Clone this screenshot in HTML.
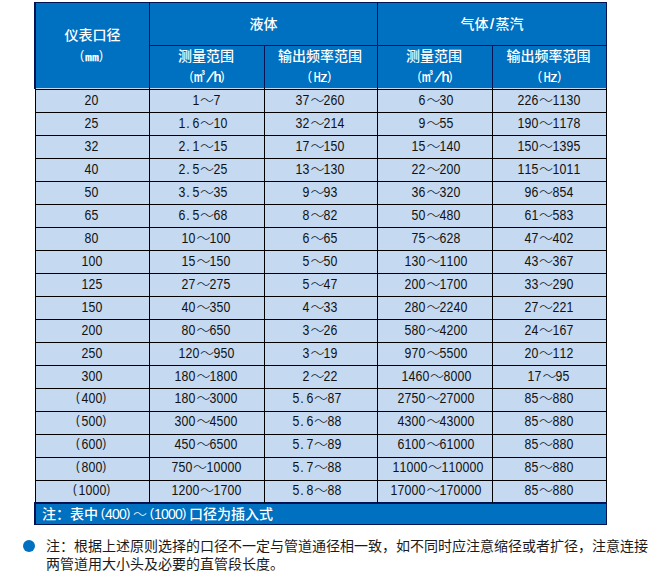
<!DOCTYPE html>
<html><head><meta charset="utf-8"><style>
html,body{margin:0;padding:0;background:#fff;width:655px;height:575px;overflow:hidden;position:relative}
div{position:absolute;box-sizing:border-box}
.ht,.dt,.ft,.note{font-family:"Liberation Sans","Noto Sans CJK SC",sans-serif;font-size:14px;white-space:nowrap;text-align:center}
i{display:inline-block;width:7px;text-align:center;font-style:normal}
i.l{text-align:right}
i.r{text-align:left}
i.p{text-align:left;text-indent:1px}
i b{display:inline-block;font-weight:normal;transform:scaleX(.6);margin:0 -3px}
i u{text-decoration:none;font-size:11.5px;position:relative;top:-1.5px}
s{text-decoration:none;display:inline-block;transform:scaleY(.75);transform-origin:50% 80%;font-weight:bold}
q{quotes:none;font-weight:300}
.dt q{position:relative;left:1.5px;font-weight:300}
i.s3{width:3.5px;font-size:9px;position:relative;top:-5px;left:-1px}
.ht i u{font-size:12px;top:-2.5px}
.ht{color:#fff;font-weight:500}
.ht i{text-shadow:.3px 0 0 #fff}
.ht i.l,.ht i.r{text-shadow:none}
.dt{color:#111}
.dt i{font-size:14px;transform:scaleX(.88)}
.dt i.l{text-align:right;padding-right:1px}
.dt i.r{text-align:left}
.dt i u{font-size:12.5px;top:-2.5px}
.ft{color:#fff;text-align:left;font-weight:500}

.ft i u{font-size:13px;top:-2px}
.bul{left:23px;top:540px;width:12px;height:12px;border-radius:50%;background:#0070C0}
.note{left:46px;top:537px;line-height:18px;text-align:left;color:#1a1a1a}
</style></head><body>
<div style="left:34px;top:2px;width:573px;height:86px;background:#0070C0"></div>
<div style="left:35px;top:88px;width:572px;height:415px;background:#C5D9F1"></div>
<div style="left:34px;top:502px;width:573px;height:23px;background:#0070C0"></div>
<div style="left:34px;top:2px;width:573px;height:1px;background:#001250"></div>
<div style="left:149px;top:45px;width:457px;height:1px;background:#001250"></div>
<div style="left:35px;top:89px;width:572px;height:1px;background:#000000"></div>
<div style="left:35px;top:112px;width:572px;height:1px;background:#000000"></div>
<div style="left:35px;top:135px;width:572px;height:1px;background:#000000"></div>
<div style="left:35px;top:158px;width:572px;height:1px;background:#000000"></div>
<div style="left:35px;top:181px;width:572px;height:1px;background:#000000"></div>
<div style="left:35px;top:204px;width:572px;height:1px;background:#000000"></div>
<div style="left:35px;top:227px;width:572px;height:1px;background:#000000"></div>
<div style="left:35px;top:250px;width:572px;height:1px;background:#000000"></div>
<div style="left:35px;top:273px;width:572px;height:1px;background:#000000"></div>
<div style="left:35px;top:296px;width:572px;height:1px;background:#000000"></div>
<div style="left:35px;top:319px;width:572px;height:1px;background:#000000"></div>
<div style="left:35px;top:342px;width:572px;height:1px;background:#000000"></div>
<div style="left:35px;top:365px;width:572px;height:1px;background:#000000"></div>
<div style="left:35px;top:388px;width:572px;height:1px;background:#000000"></div>
<div style="left:35px;top:411px;width:572px;height:1px;background:#000000"></div>
<div style="left:35px;top:434px;width:572px;height:1px;background:#000000"></div>
<div style="left:35px;top:457px;width:572px;height:1px;background:#000000"></div>
<div style="left:35px;top:480px;width:572px;height:1px;background:#000000"></div>
<div style="left:34px;top:502px;width:573px;height:2px;background:#001250"></div>
<div style="left:34px;top:524px;width:573px;height:1px;background:#001250"></div>
<div style="left:34px;top:2px;width:2px;height:87px;background:#001250"></div>
<div style="left:35px;top:89px;width:1px;height:414px;background:#000000"></div>
<div style="left:34px;top:502px;width:2px;height:23px;background:#001250"></div>
<div style="left:606px;top:2px;width:1px;height:86px;background:#001250"></div>
<div style="left:606px;top:88px;width:1px;height:414px;background:#000000"></div>
<div style="left:606px;top:502px;width:1px;height:23px;background:#001250"></div>
<div style="left:149px;top:2px;width:1px;height:86px;background:#001250"></div>
<div style="left:149px;top:88px;width:1px;height:415px;background:#000000"></div>
<div style="left:264px;top:45px;width:1px;height:43px;background:#001250"></div>
<div style="left:264px;top:88px;width:1px;height:415px;background:#000000"></div>
<div style="left:377px;top:2px;width:1px;height:86px;background:#001250"></div>
<div style="left:377px;top:88px;width:1px;height:415px;background:#000000"></div>
<div style="left:492px;top:45px;width:1px;height:43px;background:#001250"></div>
<div style="left:492px;top:88px;width:1px;height:415px;background:#000000"></div>
<div class="ht" style="left:36px;top:25px;width:113px;height:21px;line-height:21px">仪表口径</div>
<div class="ht" style="left:35px;top:46px;width:113px;height:21px;line-height:21px"><i class="l" style="padding-right:1px"><u>(</u></i><s>㎜</s><i class="r"><u>)</u></i></div>
<div class="ht" style="left:150px;top:14px;width:227px;height:21px;line-height:21px">液体</div>
<div class="ht" style="left:378px;top:14px;width:228px;height:21px;line-height:21px">气体<i>/</i>蒸汽</div>
<div class="ht" style="left:149px;top:46px;width:114px;height:21px;line-height:21px">测量范围</div>
<div class="ht" style="left:150px;top:67px;width:114px;height:21px;line-height:21px"><i class="l" style="width:5px"><u>(</u></i><i style="width:9px"><b style="transform:scaleX(.72);margin:0 -3px;font-weight:bold;text-shadow:none">m</b></i><i class="s3" style="width:3px">³</i><i style="width:8px"><b style="transform:skewX(-22deg);margin:0;font-weight:normal">/</b></i><i>h</i><i class="r" style="width:5px"><u>)</u></i></div>
<div class="ht" style="left:264px;top:46px;width:112px;height:21px;line-height:21px">输出频率范围</div>
<div class="ht" style="left:263.5px;top:67px;width:112.0px;height:21px;line-height:21px"><i class="l" style="padding-right:1.5px"><u>(</u></i><i><b style="transform:scaleX(.66)">H</b></i><i>z</i><i class="r"><u>)</u></i></div>
<div class="ht" style="left:377px;top:46px;width:114px;height:21px;line-height:21px">测量范围</div>
<div class="ht" style="left:378px;top:67px;width:114px;height:21px;line-height:21px"><i class="l" style="width:5px"><u>(</u></i><i style="width:9px"><b style="transform:scaleX(.72);margin:0 -3px;font-weight:bold;text-shadow:none">m</b></i><i class="s3" style="width:3px">³</i><i style="width:8px"><b style="transform:skewX(-22deg);margin:0;font-weight:normal">/</b></i><i>h</i><i class="r" style="width:5px"><u>)</u></i></div>
<div class="ht" style="left:492px;top:46px;width:113px;height:21px;line-height:21px">输出频率范围</div>
<div class="ht" style="left:493px;top:67px;width:113px;height:21px;line-height:21px"><i class="l" style="padding-right:1.5px"><u>(</u></i><i><b style="transform:scaleX(.66)">H</b></i><i>z</i><i class="r"><u>)</u></i></div>
<div class="dt" style="left:34.5px;top:89px;width:113.0px;height:22px;line-height:22px"><i>2</i><i>0</i></div>
<div class="dt" style="left:148.5px;top:89px;width:114.0px;height:22px;line-height:22px"><i>1</i><q>～</q><i>7</i></div>
<div class="dt" style="left:263.5px;top:89px;width:112.0px;height:22px;line-height:22px"><i>3</i><i>7</i><q>～</q><i>2</i><i>6</i><i>0</i></div>
<div class="dt" style="left:378.5px;top:89px;width:114.0px;height:22px;line-height:22px"><i>6</i><q>～</q><i>3</i><i>0</i></div>
<div class="dt" style="left:491.5px;top:89px;width:113.0px;height:22px;line-height:22px"><i>2</i><i>2</i><i>6</i><q>～</q><i>1</i><i>1</i><i>3</i><i>0</i></div>
<div class="dt" style="left:34.5px;top:112px;width:113.0px;height:22px;line-height:22px"><i>2</i><i>5</i></div>
<div class="dt" style="left:148.5px;top:112px;width:114.0px;height:22px;line-height:22px"><i>1</i><i class="p">.</i><i>6</i><q>～</q><i>1</i><i>0</i><i>&nbsp;</i></div>
<div class="dt" style="left:263.5px;top:112px;width:112.0px;height:22px;line-height:22px"><i>3</i><i>2</i><q>～</q><i>2</i><i>1</i><i>4</i></div>
<div class="dt" style="left:378.5px;top:112px;width:114.0px;height:22px;line-height:22px"><i>9</i><q>～</q><i>5</i><i>5</i></div>
<div class="dt" style="left:491.5px;top:112px;width:113.0px;height:22px;line-height:22px"><i>1</i><i>9</i><i>0</i><q>～</q><i>1</i><i>1</i><i>7</i><i>8</i></div>
<div class="dt" style="left:34.5px;top:135px;width:113.0px;height:22px;line-height:22px"><i>3</i><i>2</i></div>
<div class="dt" style="left:148.5px;top:135px;width:114.0px;height:22px;line-height:22px"><i>2</i><i class="p">.</i><i>1</i><q>～</q><i>1</i><i>5</i><i>&nbsp;</i></div>
<div class="dt" style="left:263.5px;top:135px;width:112.0px;height:22px;line-height:22px"><i>1</i><i>7</i><q>～</q><i>1</i><i>5</i><i>0</i></div>
<div class="dt" style="left:378.5px;top:135px;width:114.0px;height:22px;line-height:22px"><i>1</i><i>5</i><q>～</q><i>1</i><i>4</i><i>0</i></div>
<div class="dt" style="left:491.5px;top:135px;width:113.0px;height:22px;line-height:22px"><i>1</i><i>5</i><i>0</i><q>～</q><i>1</i><i>3</i><i>9</i><i>5</i></div>
<div class="dt" style="left:34.5px;top:158px;width:113.0px;height:22px;line-height:22px"><i>4</i><i>0</i></div>
<div class="dt" style="left:148.5px;top:158px;width:114.0px;height:22px;line-height:22px"><i>2</i><i class="p">.</i><i>5</i><q>～</q><i>2</i><i>5</i><i>&nbsp;</i></div>
<div class="dt" style="left:263.5px;top:158px;width:112.0px;height:22px;line-height:22px"><i>1</i><i>3</i><q>～</q><i>1</i><i>3</i><i>0</i></div>
<div class="dt" style="left:378.5px;top:158px;width:114.0px;height:22px;line-height:22px"><i>2</i><i>2</i><q>～</q><i>2</i><i>0</i><i>0</i></div>
<div class="dt" style="left:491.5px;top:158px;width:113.0px;height:22px;line-height:22px"><i>1</i><i>1</i><i>5</i><q>～</q><i>1</i><i>0</i><i>1</i><i>1</i></div>
<div class="dt" style="left:34.5px;top:181px;width:113.0px;height:22px;line-height:22px"><i>5</i><i>0</i></div>
<div class="dt" style="left:148.5px;top:181px;width:114.0px;height:22px;line-height:22px"><i>3</i><i class="p">.</i><i>5</i><q>～</q><i>3</i><i>5</i><i>&nbsp;</i></div>
<div class="dt" style="left:263.5px;top:181px;width:112.0px;height:22px;line-height:22px"><i>9</i><q>～</q><i>9</i><i>3</i></div>
<div class="dt" style="left:378.5px;top:181px;width:114.0px;height:22px;line-height:22px"><i>3</i><i>6</i><q>～</q><i>3</i><i>2</i><i>0</i></div>
<div class="dt" style="left:491.5px;top:181px;width:113.0px;height:22px;line-height:22px"><i>9</i><i>6</i><q>～</q><i>8</i><i>5</i><i>4</i></div>
<div class="dt" style="left:34.5px;top:204px;width:113.0px;height:22px;line-height:22px"><i>6</i><i>5</i></div>
<div class="dt" style="left:148.5px;top:204px;width:114.0px;height:22px;line-height:22px"><i>6</i><i class="p">.</i><i>5</i><q>～</q><i>6</i><i>8</i><i>&nbsp;</i></div>
<div class="dt" style="left:263.5px;top:204px;width:112.0px;height:22px;line-height:22px"><i>8</i><q>～</q><i>8</i><i>2</i></div>
<div class="dt" style="left:378.5px;top:204px;width:114.0px;height:22px;line-height:22px"><i>5</i><i>0</i><q>～</q><i>4</i><i>8</i><i>0</i></div>
<div class="dt" style="left:491.5px;top:204px;width:113.0px;height:22px;line-height:22px"><i>6</i><i>1</i><q>～</q><i>5</i><i>8</i><i>3</i></div>
<div class="dt" style="left:34.5px;top:227px;width:113.0px;height:22px;line-height:22px"><i>8</i><i>0</i></div>
<div class="dt" style="left:148.5px;top:227px;width:114.0px;height:22px;line-height:22px"><i>1</i><i>0</i><q>～</q><i>1</i><i>0</i><i>0</i></div>
<div class="dt" style="left:263.5px;top:227px;width:112.0px;height:22px;line-height:22px"><i>6</i><q>～</q><i>6</i><i>5</i></div>
<div class="dt" style="left:378.5px;top:227px;width:114.0px;height:22px;line-height:22px"><i>7</i><i>5</i><q>～</q><i>6</i><i>2</i><i>8</i></div>
<div class="dt" style="left:491.5px;top:227px;width:113.0px;height:22px;line-height:22px"><i>4</i><i>7</i><q>～</q><i>4</i><i>0</i><i>2</i></div>
<div class="dt" style="left:34.5px;top:250px;width:113.0px;height:22px;line-height:22px"><i>1</i><i>0</i><i>0</i></div>
<div class="dt" style="left:148.5px;top:250px;width:114.0px;height:22px;line-height:22px"><i>1</i><i>5</i><q>～</q><i>1</i><i>5</i><i>0</i></div>
<div class="dt" style="left:263.5px;top:250px;width:112.0px;height:22px;line-height:22px"><i>5</i><q>～</q><i>5</i><i>0</i></div>
<div class="dt" style="left:378.5px;top:250px;width:114.0px;height:22px;line-height:22px"><i>1</i><i>3</i><i>0</i><q>～</q><i>1</i><i>1</i><i>0</i><i>0</i></div>
<div class="dt" style="left:491.5px;top:250px;width:113.0px;height:22px;line-height:22px"><i>4</i><i>3</i><q>～</q><i>3</i><i>6</i><i>7</i></div>
<div class="dt" style="left:34.5px;top:273px;width:113.0px;height:22px;line-height:22px"><i>1</i><i>2</i><i>5</i></div>
<div class="dt" style="left:148.5px;top:273px;width:114.0px;height:22px;line-height:22px"><i>2</i><i>7</i><q>～</q><i>2</i><i>7</i><i>5</i></div>
<div class="dt" style="left:263.5px;top:273px;width:112.0px;height:22px;line-height:22px"><i>5</i><q>～</q><i>4</i><i>7</i></div>
<div class="dt" style="left:378.5px;top:273px;width:114.0px;height:22px;line-height:22px"><i>2</i><i>0</i><i>0</i><q>～</q><i>1</i><i>7</i><i>0</i><i>0</i></div>
<div class="dt" style="left:491.5px;top:273px;width:113.0px;height:22px;line-height:22px"><i>3</i><i>3</i><q>～</q><i>2</i><i>9</i><i>0</i></div>
<div class="dt" style="left:34.5px;top:296px;width:113.0px;height:22px;line-height:22px"><i>1</i><i>5</i><i>0</i></div>
<div class="dt" style="left:148.5px;top:296px;width:114.0px;height:22px;line-height:22px"><i>4</i><i>0</i><q>～</q><i>3</i><i>5</i><i>0</i></div>
<div class="dt" style="left:263.5px;top:296px;width:112.0px;height:22px;line-height:22px"><i>4</i><q>～</q><i>3</i><i>3</i></div>
<div class="dt" style="left:378.5px;top:296px;width:114.0px;height:22px;line-height:22px"><i>2</i><i>8</i><i>0</i><q>～</q><i>2</i><i>2</i><i>4</i><i>0</i></div>
<div class="dt" style="left:491.5px;top:296px;width:113.0px;height:22px;line-height:22px"><i>2</i><i>7</i><q>～</q><i>2</i><i>2</i><i>1</i></div>
<div class="dt" style="left:34.5px;top:319px;width:113.0px;height:22px;line-height:22px"><i>2</i><i>0</i><i>0</i></div>
<div class="dt" style="left:148.5px;top:319px;width:114.0px;height:22px;line-height:22px"><i>8</i><i>0</i><q>～</q><i>6</i><i>5</i><i>0</i></div>
<div class="dt" style="left:263.5px;top:319px;width:112.0px;height:22px;line-height:22px"><i>3</i><q>～</q><i>2</i><i>6</i></div>
<div class="dt" style="left:378.5px;top:319px;width:114.0px;height:22px;line-height:22px"><i>5</i><i>8</i><i>0</i><q>～</q><i>4</i><i>2</i><i>0</i><i>0</i></div>
<div class="dt" style="left:491.5px;top:319px;width:113.0px;height:22px;line-height:22px"><i>2</i><i>4</i><q>～</q><i>1</i><i>6</i><i>7</i></div>
<div class="dt" style="left:34.5px;top:342px;width:113.0px;height:22px;line-height:22px"><i>2</i><i>5</i><i>0</i></div>
<div class="dt" style="left:148.5px;top:342px;width:114.0px;height:22px;line-height:22px"><i>1</i><i>2</i><i>0</i><q>～</q><i>9</i><i>5</i><i>0</i></div>
<div class="dt" style="left:263.5px;top:342px;width:112.0px;height:22px;line-height:22px"><i>3</i><q>～</q><i>1</i><i>9</i></div>
<div class="dt" style="left:378.5px;top:342px;width:114.0px;height:22px;line-height:22px"><i>9</i><i>7</i><i>0</i><q>～</q><i>5</i><i>5</i><i>0</i><i>0</i></div>
<div class="dt" style="left:491.5px;top:342px;width:113.0px;height:22px;line-height:22px"><i>2</i><i>0</i><q>～</q><i>1</i><i>1</i><i>2</i></div>
<div class="dt" style="left:34.5px;top:365px;width:113.0px;height:22px;line-height:22px"><i>3</i><i>0</i><i>0</i></div>
<div class="dt" style="left:148.5px;top:365px;width:114.0px;height:22px;line-height:22px"><i>1</i><i>8</i><i>0</i><q>～</q><i>1</i><i>8</i><i>0</i><i>0</i></div>
<div class="dt" style="left:263.5px;top:365px;width:112.0px;height:22px;line-height:22px"><i>2</i><q>～</q><i>2</i><i>2</i></div>
<div class="dt" style="left:378.5px;top:365px;width:114.0px;height:22px;line-height:22px"><i>1</i><i>4</i><i>6</i><i>0</i><q>～</q><i>8</i><i>0</i><i>0</i><i>0</i></div>
<div class="dt" style="left:491.5px;top:365px;width:113.0px;height:22px;line-height:22px"><i>1</i><i>7</i><q>～</q><i>9</i><i>5</i></div>
<div class="dt" style="left:34.5px;top:387px;width:113.0px;height:22px;line-height:22px"><i class="l"><u>(</u></i><i>4</i><i>0</i><i>0</i><i class="r"><u>)</u></i></div>
<div class="dt" style="left:148.5px;top:387px;width:114.0px;height:22px;line-height:22px"><i>1</i><i>8</i><i>0</i><q>～</q><i>3</i><i>0</i><i>0</i><i>0</i></div>
<div class="dt" style="left:263.5px;top:387px;width:112.0px;height:22px;line-height:22px"><i>5</i><i class="p">.</i><i>6</i><q>～</q><i>8</i><i>7</i><i>&nbsp;</i></div>
<div class="dt" style="left:378.5px;top:387px;width:114.0px;height:22px;line-height:22px"><i>2</i><i>7</i><i>5</i><i>0</i><q>～</q><i>2</i><i>7</i><i>0</i><i>0</i><i>0</i></div>
<div class="dt" style="left:491.5px;top:387px;width:113.0px;height:22px;line-height:22px"><i>8</i><i>5</i><q>～</q><i>8</i><i>8</i><i>0</i></div>
<div class="dt" style="left:34.5px;top:410px;width:113.0px;height:22px;line-height:22px"><i class="l"><u>(</u></i><i>5</i><i>0</i><i>0</i><i class="r"><u>)</u></i></div>
<div class="dt" style="left:148.5px;top:410px;width:114.0px;height:22px;line-height:22px"><i>3</i><i>0</i><i>0</i><q>～</q><i>4</i><i>5</i><i>0</i><i>0</i></div>
<div class="dt" style="left:263.5px;top:410px;width:112.0px;height:22px;line-height:22px"><i>5</i><i class="p">.</i><i>6</i><q>～</q><i>8</i><i>8</i><i>&nbsp;</i></div>
<div class="dt" style="left:378.5px;top:410px;width:114.0px;height:22px;line-height:22px"><i>4</i><i>3</i><i>0</i><i>0</i><q>～</q><i>4</i><i>3</i><i>0</i><i>0</i><i>0</i></div>
<div class="dt" style="left:491.5px;top:410px;width:113.0px;height:22px;line-height:22px"><i>8</i><i>5</i><q>～</q><i>8</i><i>8</i><i>0</i></div>
<div class="dt" style="left:34.5px;top:433px;width:113.0px;height:22px;line-height:22px"><i class="l"><u>(</u></i><i>6</i><i>0</i><i>0</i><i class="r"><u>)</u></i></div>
<div class="dt" style="left:148.5px;top:433px;width:114.0px;height:22px;line-height:22px"><i>4</i><i>5</i><i>0</i><q>～</q><i>6</i><i>5</i><i>0</i><i>0</i></div>
<div class="dt" style="left:263.5px;top:433px;width:112.0px;height:22px;line-height:22px"><i>5</i><i class="p">.</i><i>7</i><q>～</q><i>8</i><i>9</i><i>&nbsp;</i></div>
<div class="dt" style="left:378.5px;top:433px;width:114.0px;height:22px;line-height:22px"><i>6</i><i>1</i><i>0</i><i>0</i><q>～</q><i>6</i><i>1</i><i>0</i><i>0</i><i>0</i></div>
<div class="dt" style="left:491.5px;top:433px;width:113.0px;height:22px;line-height:22px"><i>8</i><i>5</i><q>～</q><i>8</i><i>8</i><i>0</i></div>
<div class="dt" style="left:34.5px;top:456px;width:113.0px;height:22px;line-height:22px"><i class="l"><u>(</u></i><i>8</i><i>0</i><i>0</i><i class="r"><u>)</u></i></div>
<div class="dt" style="left:148.5px;top:456px;width:114.0px;height:22px;line-height:22px"><i>7</i><i>5</i><i>0</i><q>～</q><i>1</i><i>0</i><i>0</i><i>0</i><i>0</i></div>
<div class="dt" style="left:263.5px;top:456px;width:112.0px;height:22px;line-height:22px"><i>5</i><i class="p">.</i><i>7</i><q>～</q><i>8</i><i>8</i><i>&nbsp;</i></div>
<div class="dt" style="left:380.0px;top:456px;width:114.0px;height:22px;line-height:22px"><i>1</i><i>1</i><i>0</i><i>0</i><i>0</i><q>～</q><i>1</i><i>1</i><i>0</i><i>0</i><i>0</i><i>0</i></div>
<div class="dt" style="left:491.5px;top:456px;width:113.0px;height:22px;line-height:22px"><i>8</i><i>5</i><q>～</q><i>8</i><i>8</i><i>0</i></div>
<div class="dt" style="left:34.5px;top:479px;width:113.0px;height:22px;line-height:22px"><i class="l"><u>(</u></i><i>1</i><i>0</i><i>0</i><i>0</i><i class="r"><u>)</u></i></div>
<div class="dt" style="left:148.5px;top:479px;width:114.0px;height:22px;line-height:22px"><i>1</i><i>2</i><i>0</i><i>0</i><q>～</q><i>1</i><i>7</i><i>0</i><i>0</i></div>
<div class="dt" style="left:263.5px;top:479px;width:112.0px;height:22px;line-height:22px"><i>5</i><i class="p">.</i><i>8</i><q>～</q><i>8</i><i>8</i><i>&nbsp;</i></div>
<div class="dt" style="left:378.5px;top:479px;width:114.0px;height:22px;line-height:22px"><i>1</i><i>7</i><i>0</i><i>0</i><i>0</i><q>～</q><i>1</i><i>7</i><i>0</i><i>0</i><i>0</i><i>0</i></div>
<div class="dt" style="left:491.5px;top:479px;width:113.0px;height:22px;line-height:22px"><i>8</i><i>5</i><q>～</q><i>8</i><i>8</i><i>0</i></div>
<div class="ft" style="left:42px;top:504px;height:20px;line-height:20px">注：表中<i class="l"><u>(</u></i><i>4</i><i>0</i><i>0</i><i class="r"><u>)</u></i><q>～</q><i class="l"><u>(</u></i><i>1</i><i>0</i><i>0</i><i>0</i><i class="r"><u>)</u></i>口径为插入式</div>
<div class="bul"></div>
<div class="note">注：根据上述原则选择的口径不一定与管道通径相一致，如不同时应注意缩径或者扩径，注意连接<br>两管道用大小头及必要的直管段长度。</div>
</body></html>
